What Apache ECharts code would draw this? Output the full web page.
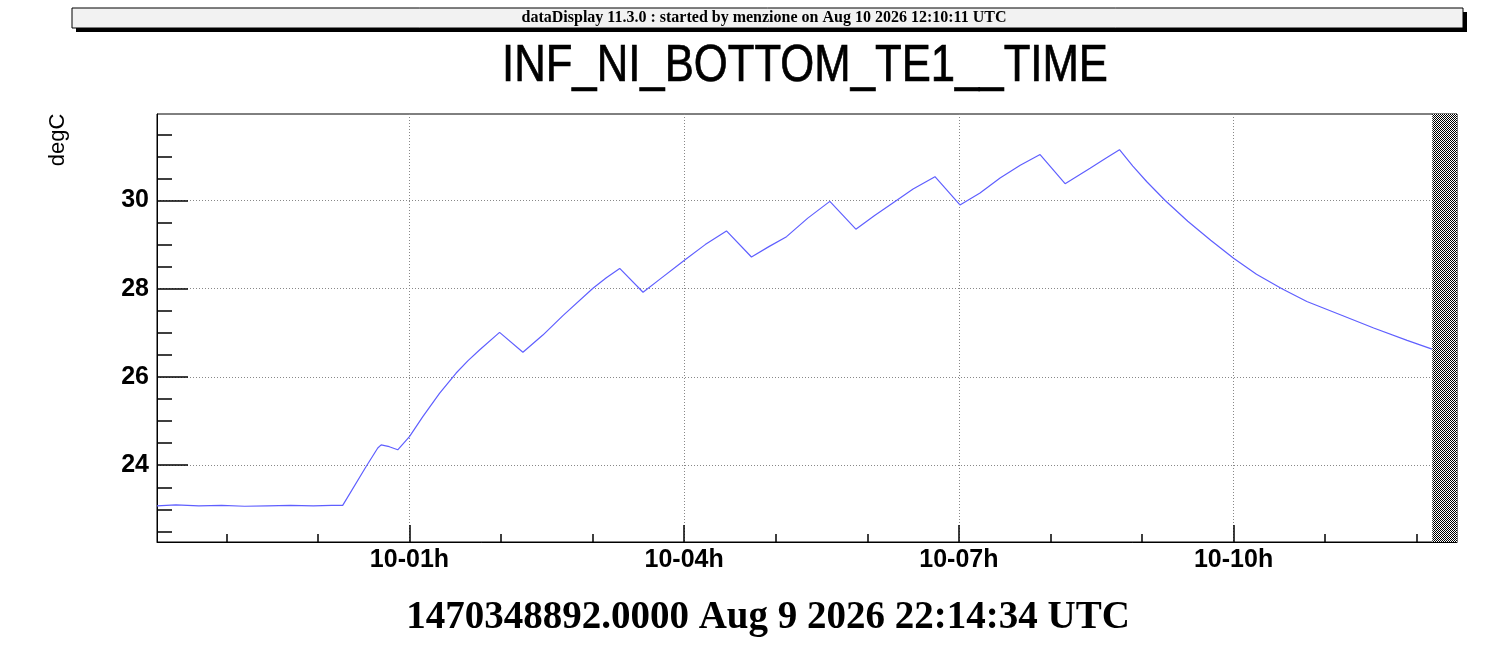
<!DOCTYPE html>
<html>
<head>
<meta charset="utf-8">
<title>INF_NI_BOTTOM_TE1__TIME</title>
<script src="https://cdn.jsdelivr.net/npm/echarts@6/dist/echarts.min.js"></script>
<style>
html, body { margin: 0; padding: 0; background: #fff; overflow: hidden; }
#chart { width: 1510px; height: 650px; }
</style>
</head>
<body>
<div id="chart"></div>
<script>
// hours relative to Aug 10 2026 00:00 UTC
var hours = [-1.757, -1.55, -1.3, -1.05, -0.8, -0.55, -0.3, -0.05, 0.15, 0.271,
	0.527, 0.654, 0.691, 0.78, 0.872, 1.0, 1.146, 1.328, 1.51, 1.64,
	1.765, 1.984, 2.239, 2.457, 2.676, 3.004, 3.15, 3.296, 3.551, 3.75,
	3.95, 4.006, 4.23, 4.462, 4.735, 4.93, 5.118, 5.35, 5.591, 5.875,
	6.08, 6.283, 6.5, 6.739, 7.012, 7.231, 7.45, 7.67, 7.887, 8.16,
	8.433, 8.6, 8.754, 8.9, 9.05, 9.253, 9.5, 9.75, 10.0, 10.25,
	10.528, 10.8, 11.166, 11.53, 11.895, 12.168];
var degC = [23.08, 23.10, 23.08, 23.09, 23.07, 23.08, 23.09, 23.08, 23.09, 23.09,
	23.97, 24.39, 24.46, 24.42, 24.35, 24.65, 25.10, 25.63, 26.09, 26.37,
	26.61, 27.01, 26.56, 26.95, 27.39, 28.01, 28.25, 28.46, 27.92, 28.24,
	28.56, 28.65, 29.00, 29.31, 28.72, 28.96, 29.18, 29.60, 29.98, 29.35,
	29.66, 29.95, 30.26, 30.54, 29.90, 30.17, 30.51, 30.80, 31.04, 30.38,
	30.73, 30.95, 31.15, 30.78, 30.43, 30.00, 29.53, 29.10, 28.69, 28.33,
	28.00, 27.71, 27.41, 27.11, 26.83, 26.63];

var xMin = -1.757, xMax = 12.44;   // 22:14:34 .. window end
var startedAt = 12.17;             // 12:10:11, display start (hatched)
var yMin = 22.26, yMax = 31.96;

var xMajor = [1, 4, 7, 10];
var xMinor = [-1, 0, 1, 2, 3, 4, 5, 6, 7, 8, 9, 10, 11, 12];
var yMajor = [24, 26, 28, 30];
var yMinor = [22.5, 23, 23.5, 24, 24.5, 25, 25.5, 26, 26.5, 27, 27.5, 28, 28.5, 29, 29.5, 30, 30.5, 31, 31.5];

// checkerboard hatch
var pat = document.createElement('canvas');
pat.width = 2; pat.height = 2;
var pctx = pat.getContext('2d');
pctx.fillStyle = '#fff'; pctx.fillRect(0, 0, 2, 2);
pctx.fillStyle = '#000'; pctx.fillRect(0, 0, 1, 1); pctx.fillRect(1, 1, 1, 1);

var sans = "'Liberation Sans', Helvetica, Arial, sans-serif";
var serif = "'Liberation Serif', 'Times New Roman', serif";
var dotted = { color: '#888', type: [1, 2], width: 1 };

function pad(h) { return (h < 10 ? '0' : '') + h; }

var chart = echarts.init(document.getElementById('chart'), null, { renderer: 'canvas' });

chart.setOption({
	animation: false,
	backgroundColor: '#fff',
	grid: { left: 157, top: 114, width: 1300, height: 428, show: true, borderColor: '#000', borderWidth: 1, containLabel: false },
	xAxis: [{
		type: 'value', position: 'bottom', min: xMin, max: xMax,
		axisLine: { show: true, onZero: false, lineStyle: { color: '#000', width: 1 } },
		axisTick: { show: true, inside: true, length: 17, customValues: xMajor, lineStyle: { color: '#000', width: 1.5 } },
		axisLabel: { show: true, customValues: xMajor, margin: 6, color: '#000', fontFamily: sans, fontWeight: 'bold', fontSize: 25,
			formatter: function (v) { return '10-' + pad(v) + 'h'; } },
		splitLine: { show: true, lineStyle: dotted }
	}, {
		type: 'value', position: 'bottom', min: xMin, max: xMax,
		axisLine: { show: false, onZero: false },
		axisTick: { show: true, inside: true, length: 8, customValues: xMinor, lineStyle: { color: '#000', width: 1.5 } },
		axisLabel: { show: false },
		splitLine: { show: false }
	}],
	yAxis: [{
		type: 'value', position: 'left', min: yMin, max: yMax,
		axisLine: { show: true, onZero: false, lineStyle: { color: '#000', width: 1 } },
		axisTick: { show: true, inside: true, length: 31, customValues: yMajor, lineStyle: { color: '#000', width: 1.5 } },
		axisLabel: { show: true, customValues: yMajor, margin: 8, color: '#000', fontFamily: sans, fontWeight: 'bold', fontSize: 25 },
		splitLine: { show: true, lineStyle: dotted }
	}, {
		type: 'value', position: 'left', min: yMin, max: yMax,
		axisLine: { show: false, onZero: false },
		axisTick: { show: true, inside: true, length: 15, customValues: yMinor, lineStyle: { color: '#000', width: 1.5 } },
		axisLabel: { show: false },
		splitLine: { show: false }
	}],
	series: [{
		type: 'line',
		xAxisIndex: 0, yAxisIndex: 0,
		data: hours.map(function (h, i) { return [h, degC[i]]; }),
		showSymbol: false,
		lineStyle: { color: '#5f5fff', width: 1.2 },
		itemStyle: { color: '#5f5fff' },
		markArea: {
			silent: true,
			itemStyle: { color: { image: pat, repeat: 'repeat' }, opacity: 1, borderWidth: 0 },
			data: [[{ xAxis: startedAt, yAxis: yMin }, { xAxis: xMax, yAxis: yMax }]]
		},
		z: 3
	}],
	graphic: [
		// banner with shadow
		{ type: 'rect', shape: { x: 76, y: 12, width: 1391, height: 20 }, style: { fill: '#000' }, z: 10 },
		{ type: 'rect', shape: { x: 72, y: 8, width: 1391, height: 20 }, style: { fill: '#f2f2f2', stroke: '#000', lineWidth: 1 }, z: 11 },
		{ type: 'text', x: 764, y: 18, z: 12,
			style: { text: 'dataDisplay 11.3.0 : started by menzione on Aug 10 2026 12:10:11 UTC', fill: '#000',
				font: 'bold 16px ' + serif, textAlign: 'center', textVerticalAlign: 'middle' } },
		// title
		{ type: 'text', x: 805, y: 67, scaleX: 0.84, z: 12,
			style: { text: 'INF_NI_BOTTOM_TE1__TIME', fill: '#000', stroke: '#000', lineWidth: 0.7, font: '52px ' + sans,
				textAlign: 'center', textVerticalAlign: 'middle' } },
		// y axis title
		{ type: 'text', x: 58, y: 140, rotation: Math.PI / 2, z: 12,
			style: { text: 'degC', fill: '#000', font: '22px ' + sans, textAlign: 'center', textVerticalAlign: 'middle' } },
		// time offset
		{ type: 'text', x: 768, y: 618, z: 12,
			style: { text: '1470348892.0000 Aug 9 2026 22:14:34 UTC', fill: '#000', font: 'bold 39px ' + serif,
				textAlign: 'center', textVerticalAlign: 'middle' } }
	]
});
</script>
</body>
</html>
